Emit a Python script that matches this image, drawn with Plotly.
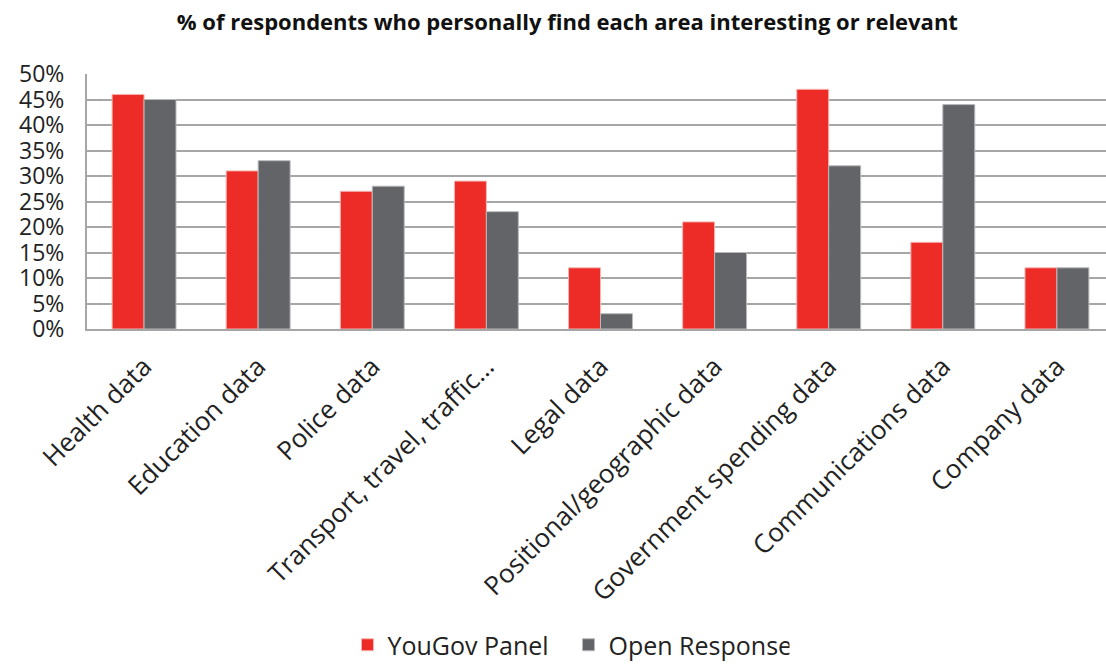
import plotly.graph_objects as go

categories = ["Health data", "Education data", "Police data", "Transport, travel, traffic…",
              "Legal data", "Positional/geographic data", "Government spending data",
              "Communications data", "Company data"]
yougov_panel = [46, 31, 27, 29, 12, 21, 47, 17, 12]
open_response = [45, 33, 28, 23, 3, 15, 32, 44, 12]
y_ticks = [0, 5, 10, 15, 20, 25, 30, 35, 40, 45, 50]

FONT = "Open Sans, Noto Sans, sans-serif"
RED = "#ED2C27"
GREY = "#636468"

fig = go.Figure()
fig.add_trace(go.Bar(name="YouGov Panel", x=categories, y=yougov_panel,
                     marker=dict(color=RED, line=dict(color="#f5b5b2", width=1))))
fig.add_trace(go.Bar(name="Open Response", x=categories, y=open_response,
                     marker=dict(color=GREY, line=dict(color="#b8b9bb", width=1))))

fig.update_layout(
    width=1106, height=668,
    margin=dict(l=87, r=0, t=74, b=339),
    paper_bgcolor="white", plot_bgcolor="white",
    barmode="group", bargap=0.44, bargroupgap=0,
    title=dict(text="<b>% of respondents who personally find each area interesting or relevant</b>",
               x=0.513, xanchor="center", y=0.967, yanchor="middle",
               font=dict(family=FONT, size=22, color="#111")),
    font=dict(family=FONT, color="#222"),
    legend=dict(orientation="h", xref="container", yref="container",
                x=0.514, xanchor="center", y=0.0, yanchor="bottom",
                font=dict(family=FONT, size=25, color="#222"),
                itemwidth=30, entrywidth=176, entrywidthmode="pixels",
                traceorder="normal"),
)
fig.update_xaxes(
    range=[-0.5, 8.43], tickangle=-45, tickfont=dict(family=FONT, size=26, color="#222"),
    showline=True, linecolor="#a6a6a6", linewidth=2, ticks="", showgrid=False,
    ticklabelstandoff=10,
)
fig.update_yaxes(
    range=[0, 50], tickvals=y_ticks, ticktext=[f"{v}%" for v in y_ticks],
    tickfont=dict(family=FONT, size=23, color="#222"),
    showgrid=True, gridcolor="#a6a6a6", gridwidth=2,
    showline=True, linecolor="#a6a6a6", linewidth=2, ticks="", ticklabelstandoff=16,
    zeroline=False,
)

fig.write_html("out.html")
